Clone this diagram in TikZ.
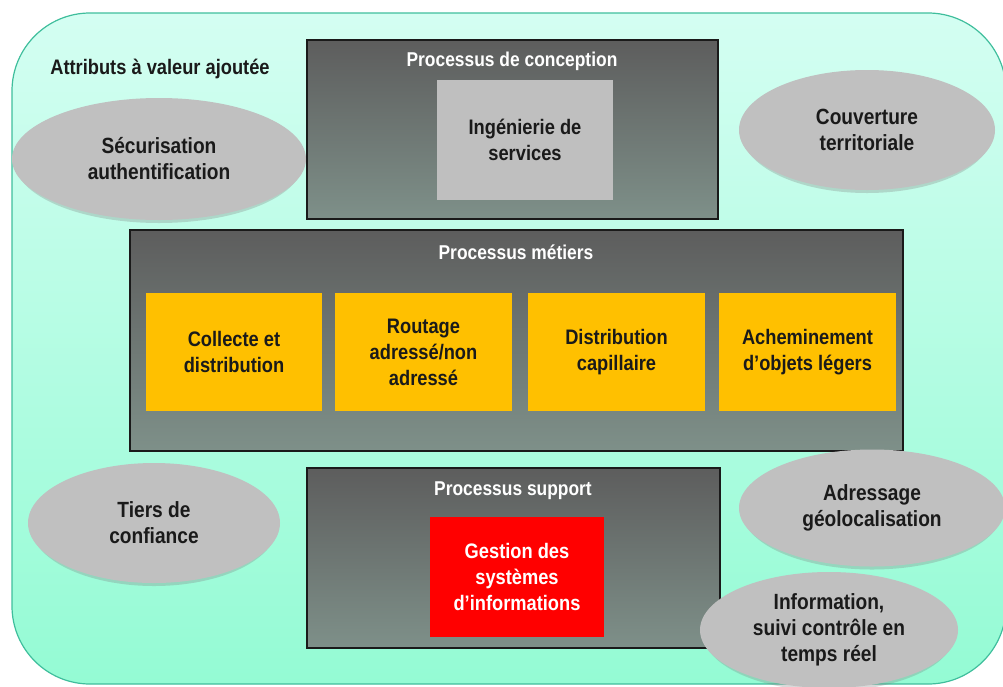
\documentclass[tikz,border=0pt]{standalone}
\usepackage{fontspec}
\setmainfont{Liberation Sans}[FakeStretch=0.87]
\usetikzlibrary{shapes.geometric}
\definecolor{mintTop}{HTML}{D4FEF2}
\definecolor{mintBot}{HTML}{94FBD4}
\definecolor{mintLine}{HTML}{3FBE9C}
\definecolor{procTop}{HTML}{5D5D5D}
\definecolor{procBot}{HTML}{7E9089}
\definecolor{ovalGrey}{HTML}{C0C0C0}
\definecolor{lightGrey}{HTML}{BFBFBF}
\definecolor{amber}{HTML}{FFC000}
\definecolor{ink}{HTML}{1A1A1A}
\begin{document}
\begin{tikzpicture}[x=1pt,y=-1pt,font=\bfseries,
  procbox/.style={draw=ink,line width=1.3pt,top color=procTop,bottom color=procBot,
    inner sep=0pt,rectangle},
  proctitle/.style={text=white,font=\bfseries\fontsize{20}{24}\selectfont},
  innerbox/.style={inner sep=0pt,align=center,text=ink,
    font=\bfseries\fontsize{21}{26}\selectfont},
  oval/.style={ellipse,fill=ovalGrey,inner sep=0pt,align=center,text=ink,
    font=\bfseries\fontsize{22}{26}\selectfont},
  ovalshadow/.style={ellipse,fill=black!50,opacity=0.3,inner sep=0pt}]
\useasboundingbox (0,0) rectangle (1003,686);

% rounded mint background
\node[draw=mintLine,line width=1.2pt,top color=mintTop,bottom color=mintBot,
  rounded corners=78pt,minimum width=994pt,minimum height=671pt,inner sep=0pt]
  (bg) at (509,348.5) {};

\node[text=ink,font=\bfseries\fontsize{21}{24}\selectfont] (attr) at (160,69)
  {Attributs à valeur ajoutée};

% top process block
\node[procbox,minimum width=411pt,minimum height=179pt] (conc) at (512.5,129.5) {};
\node[proctitle] (conct) at (512,61) {Processus de conception};
\node[innerbox,fill=lightGrey,minimum width=176pt,minimum height=120pt] (ing)
  at (525,140) {Ingénierie de\\services};

% core business block
\node[procbox,minimum width=773pt,minimum height=221pt] (met) at (516.5,340.5) {};
\node[proctitle] (mett) at (516,252) {Processus métiers};
\node[innerbox,fill=amber,minimum width=176pt,minimum height=118pt] (y1)
  at (234,352) {Collecte et\\distribution};
\node[innerbox,fill=amber,minimum width=177pt,minimum height=118pt] (y2)
  at (423.5,352) {Routage\\adressé/non\\adressé};
\node[innerbox,fill=amber,minimum width=177pt,minimum height=118pt] (y3)
  at (616.5,352) {Distribution\\capillaire};
\node[innerbox,fill=amber,minimum width=177pt,minimum height=118pt] (y4)
  at (807.5,352) {Acheminement\\d’objets légers};

% support block
\node[procbox,minimum width=413pt,minimum height=180pt] (sup) at (513.5,558) {};
\node[proctitle] (supt) at (513,491) {Processus support};
\node[innerbox,fill=red,text=white,minimum width=174pt,minimum height=120pt] (gsi)
  at (517,577) {Gestion des\\systèmes\\d’informations};

% value-added attributes, each with a faint shadow along its lower edge
\foreach \n/\x/\y/\w/\h in {s1/159/159/294/122, s2/867/130/256/120,
    s3/154/523/252/120, s4/872/508/266/117, s5/829/630/258/116}
  \node[ovalshadow,minimum width=\w pt-6pt,minimum height=\h pt] (\n) at (\x,\y+3) {};
\node[oval,minimum width=294pt,minimum height=122pt] (e1) at (159,159)
  {Sécurisation\\authentification};
\node[oval,minimum width=256pt,minimum height=120pt] (e2) at (867,130)
  {Couverture\\territoriale};
\node[oval,minimum width=252pt,minimum height=120pt] (e3) at (154,523)
  {Tiers de\\confiance};
\node[oval,minimum width=266pt,minimum height=117pt] (e4) at (872,508)
  {Adressage\\géolocalisation};
\node[oval,minimum width=258pt,minimum height=116pt] (e5) at (829,630)
  {Information,\\suivi contrôle en\\temps réel};
\end{tikzpicture}
\end{document}
